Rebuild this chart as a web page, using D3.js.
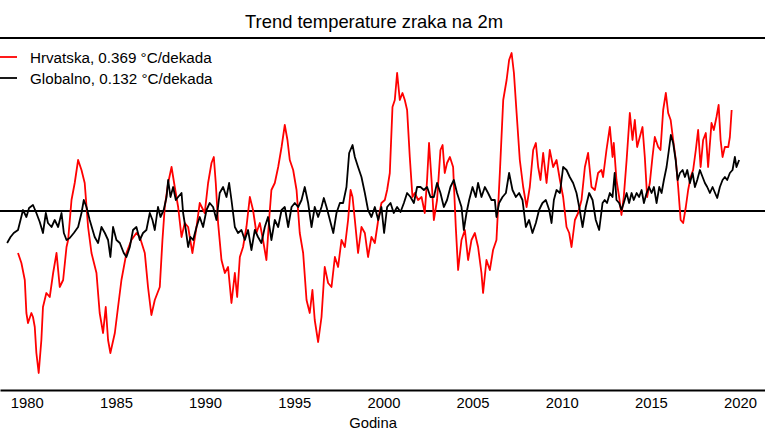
<!DOCTYPE html>
<html>
<head>
<meta charset="utf-8">
<script src="https://cdn.jsdelivr.net/npm/d3@7"></script>
<style>
    body { margin: 0; background: #fff; }
    svg { display: block; font-family: "Liberation Sans", Arial, sans-serif; }
</style>
</head>
<body>
<svg></svg>
<script>
// podaci - anomalije temperature (°C), 12-mjesečni klizni srednjak

const hrYears = [1979.51,1979.70,1979.89,1979.98,1980.07,1980.26,1980.35,1980.45,1980.54,1980.67,1980.82,1980.91,1981.10,1981.29,1981.48,1981.67,1981.85,1982.04,1982.23,1982.32,1982.51,1982.69,1982.88,1983.07,1983.25,1983.44,1983.63,1983.91,1984.09,1984.28,1984.43,1984.56,1984.69,1984.94,1985.12,1985.31,1985.59,1985.87,1986.15,1986.34,1986.62,1986.80,1986.99,1987.18,1987.46,1987.61,1987.74,1987.93,1988.12,1988.30,1988.49,1988.68,1988.86,1989.05,1989.29,1989.52,1989.70,1989.98,1990.17,1990.36,1990.49,1990.60,1990.73,1990.92,1991.11,1991.29,1991.48,1991.67,1991.80,1991.95,1992.13,1992.32,1992.51,1992.69,1992.88,1993.07,1993.25,1993.44,1993.59,1993.72,1993.91,1994.10,1994.29,1994.47,1994.62,1994.75,1994.94,1995.13,1995.31,1995.50,1995.69,1995.87,1996.02,1996.15,1996.34,1996.53,1996.71,1996.90,1997.09,1997.28,1997.46,1997.65,1997.84,1998.02,1998.16,1998.27,1998.40,1998.58,1998.77,1998.96,1999.14,1999.33,1999.52,1999.71,1999.89,2000.08,2000.21,2000.36,2000.51,2000.64,2000.77,2000.92,2001.07,2001.20,2001.33,2001.48,2001.63,2001.76,2001.95,2002.14,2002.32,2002.45,2002.56,2002.70,2002.83,2003.01,2003.20,2003.32,2003.44,2003.57,2003.73,2003.91,2004.06,2004.19,2004.38,2004.57,2004.75,2004.94,2005.13,2005.31,2005.50,2005.59,2005.78,2005.97,2006.15,2006.34,2006.53,2006.72,2006.91,2007.05,2007.19,2007.32,2007.47,2007.65,2007.84,2008.03,2008.21,2008.40,2008.55,2008.68,2008.81,2008.96,2009.15,2009.33,2009.52,2009.71,2009.90,2010.08,2010.27,2010.42,2010.55,2010.74,2010.92,2011.11,2011.30,2011.48,2011.67,2011.86,2012.04,2012.23,2012.32,2012.51,2012.70,2012.85,2012.92,2013.07,2013.22,2013.35,2013.48,2013.64,2013.82,2013.97,2014.10,2014.23,2014.38,2014.53,2014.66,2014.79,2014.94,2015.09,2015.22,2015.41,2015.54,2015.69,2015.84,2015.97,2016.11,2016.25,2016.40,2016.53,2016.67,2016.81,2016.96,2017.09,2017.23,2017.37,2017.52,2017.65,2017.79,2017.93,2018.08,2018.21,2018.40,2018.53,2018.68,2018.80,2018.91,2019.02,2019.15,2019.34,2019.43,2019.53];
const hrValues = [-0.42,-0.52,-0.69,-1.02,-1.12,-1.02,-1.06,-1.16,-1.42,-1.62,-1.29,-0.96,-0.82,-0.86,-0.62,-0.42,-0.76,-0.69,-0.36,-0.29,0.11,0.28,0.51,0.41,0.28,-0.16,-0.42,-0.62,-1.02,-1.22,-0.96,-1.29,-1.42,-1.22,-0.96,-0.69,-0.42,-0.29,-0.22,-0.26,-0.42,-0.76,-1.04,-0.89,-0.76,-0.29,0.04,0.28,0.44,0.24,0.04,-0.26,-0.12,-0.16,-0.42,-0.16,0.08,-0.02,0.28,0.48,0.54,0.28,-0.12,-0.49,-0.62,-0.56,-0.92,-0.62,-0.86,-0.46,-0.36,-0.16,0.14,0.01,-0.22,-0.12,-0.29,-0.49,-0.09,0.21,0.28,0.44,0.64,0.86,0.71,0.51,0.41,0.21,-0.22,-0.42,-0.89,-1.02,-0.79,-1.09,-1.31,-1.06,-0.56,-0.72,-0.76,-0.46,-0.56,-0.29,-0.36,-0.09,0.21,0.14,-0.09,-0.42,-0.16,-0.22,-0.46,-0.26,-0.32,-0.09,0.08,0.11,0.21,0.38,1.04,1.11,1.38,1.11,1.18,1.11,1.01,0.54,0.14,0.18,0.11,0.14,-0.02,0.31,0.68,0.31,-0.09,0.11,0.61,0.66,0.38,0.48,0.54,0.44,-0.16,-0.59,-0.29,-0.19,-0.49,-0.29,-0.22,-0.36,-0.62,-0.82,-0.49,-0.59,-0.39,-0.29,0.38,1.11,1.31,1.51,1.58,1.38,0.98,0.51,0.24,0.04,0.24,0.61,0.68,0.44,0.31,0.58,0.28,0.61,0.44,0.51,0.31,0.14,-0.16,-0.22,-0.36,-0.09,-0.02,0.11,0.44,0.58,0.24,0.21,0.38,0.41,0.34,0.61,0.84,0.54,0.68,0.31,0.14,-0.04,0.14,0.51,0.98,0.71,0.91,0.64,0.74,0.84,0.54,0.14,0.28,0.54,0.74,0.64,0.61,1.01,1.18,0.98,0.91,0.71,0.51,0.24,-0.09,-0.12,0.04,0.21,0.34,0.41,0.61,0.81,0.44,0.71,0.78,0.44,0.88,0.81,0.94,1.06,0.71,0.54,0.64,0.64,0.74,1.01];

const glYears = [1978.90,1979.09,1979.27,1979.51,1979.65,1979.79,1979.98,1980.13,1980.35,1980.54,1980.73,1980.91,1981.07,1981.19,1981.39,1981.57,1981.76,1981.95,1982.08,1982.23,1982.41,1982.64,1982.88,1983.07,1983.20,1983.35,1983.53,1983.81,1984.00,1984.19,1984.38,1984.56,1984.69,1984.84,1985.03,1985.22,1985.44,1985.59,1985.78,1985.96,1986.15,1986.34,1986.52,1986.71,1986.90,1987.05,1987.18,1987.36,1987.50,1987.68,1987.84,1987.93,1988.06,1988.21,1988.36,1988.49,1988.68,1988.77,1988.92,1989.05,1989.18,1989.33,1989.52,1989.70,1989.89,1990.08,1990.26,1990.45,1990.64,1990.82,1991.01,1991.20,1991.35,1991.48,1991.67,1991.85,1992.04,1992.23,1992.41,1992.60,1992.79,1992.97,1993.16,1993.35,1993.53,1993.72,1993.91,1994.10,1994.29,1994.47,1994.66,1994.85,1995.03,1995.22,1995.41,1995.59,1995.78,1995.97,1996.15,1996.34,1996.53,1996.66,1996.81,1997.00,1997.19,1997.37,1997.56,1997.74,1997.93,1998.08,1998.27,1998.40,1998.58,1998.77,1998.96,1999.14,1999.33,1999.52,1999.71,1999.89,2000.04,2000.21,2000.40,2000.58,2000.77,2000.96,2001.15,2001.33,2001.52,2001.71,2001.89,2002.08,2002.27,2002.45,2002.64,2002.83,2003.01,2003.20,2003.39,2003.57,2003.76,2003.95,2004.13,2004.38,2004.51,2004.66,2004.81,2005.00,2005.18,2005.31,2005.50,2005.69,2005.87,2006.06,2006.25,2006.34,2006.49,2006.68,2006.87,2007.05,2007.24,2007.43,2007.61,2007.80,2007.99,2008.17,2008.36,2008.55,2008.73,2008.92,2009.11,2009.30,2009.43,2009.56,2009.71,2009.90,2010.08,2010.27,2010.45,2010.64,2010.83,2010.98,2011.17,2011.35,2011.54,2011.73,2011.91,2012.10,2012.29,2012.41,2012.54,2012.70,2012.85,2012.97,2013.07,2013.22,2013.35,2013.48,2013.64,2013.78,2013.92,2014.04,2014.20,2014.34,2014.48,2014.61,2014.76,2014.90,2015.04,2015.17,2015.32,2015.47,2015.60,2015.73,2015.88,2016.01,2016.12,2016.25,2016.39,2016.50,2016.63,2016.78,2016.91,2017.04,2017.19,2017.34,2017.47,2017.60,2017.75,2017.90,2018.03,2018.16,2018.31,2018.46,2018.60,2018.72,2018.87,2019.02,2019.15,2019.28,2019.43,2019.58,2019.71,2019.80,2019.95];
const glValues = [-0.32,-0.26,-0.22,-0.19,-0.09,0.01,-0.06,0.03,0.06,-0.02,-0.11,-0.22,-0.02,-0.12,-0.16,-0.09,-0.16,-0.02,-0.22,-0.29,-0.27,-0.22,-0.16,-0.02,0.11,0.04,-0.09,-0.26,-0.32,-0.16,-0.22,-0.29,-0.46,-0.16,-0.29,-0.32,-0.42,-0.46,-0.36,-0.19,-0.16,-0.29,-0.22,-0.19,-0.02,-0.09,-0.19,0.04,-0.06,0.01,0.14,0.31,0.14,0.24,0.11,0.14,0.18,-0.02,-0.19,-0.36,-0.26,-0.29,-0.16,-0.06,-0.16,0.01,0.08,0.04,-0.09,0.18,0.24,0.14,0.28,0.11,-0.16,-0.22,-0.19,-0.29,-0.19,-0.39,-0.19,-0.26,-0.32,-0.16,-0.06,-0.29,-0.09,-0.16,0.01,0.04,-0.16,0.04,0.08,0.04,0.11,0.24,0.08,-0.16,0.04,-0.06,0.04,0.13,0.04,-0.09,-0.22,-0.02,0.08,0.08,0.24,0.58,0.66,0.54,0.44,0.34,0.18,0.01,-0.06,0.04,-0.09,0.04,-0.22,0.04,0.08,-0.02,0.04,-0.01,0.08,0.18,0.14,0.08,0.24,0.24,0.21,0.24,0.14,0.14,0.28,0.18,0.04,0.11,0.24,0.31,0.18,0.04,-0.19,-0.02,0.11,0.24,0.14,0.28,0.14,0.24,0.18,0.11,0.11,-0.06,0.08,0.14,0.18,0.38,0.21,0.14,0.18,0.11,-0.16,-0.09,-0.22,-0.12,0.01,0.08,0.11,0.01,-0.12,0.11,0.21,0.18,0.44,0.41,0.34,0.28,0.18,0.04,-0.16,0.04,0.18,0.11,-0.09,-0.19,0.08,0.11,0.08,0.18,0.14,0.38,0.11,0.08,0.01,0.08,0.18,0.08,0.18,0.11,0.18,0.14,0.21,0.08,0.18,0.24,0.18,0.24,0.08,0.24,0.18,0.31,0.44,0.61,0.76,0.68,0.51,0.31,0.38,0.41,0.34,0.41,0.28,0.38,0.24,0.31,0.41,0.34,0.28,0.24,0.18,0.24,0.18,0.13,0.24,0.31,0.34,0.31,0.38,0.41,0.54,0.44,0.51];

const tickYears = [1980, 1985, 1990, 1995, 2000, 2005, 2010, 2015, 2020];

const series = [
    { name: "Hrvatska, 0.369 °C/dekada", color: "#ff0000", years: hrYears, values: hrValues },
    { name: "Globalno, 0.132 °C/dekada", color: "#000000", years: glYears, values: glValues }
];

const width = 765, height = 444;
const svg = d3.select("svg").attr("width", width).attr("height", height);

// skale
const x = d3.scaleLinear().domain([1978.5, 2021.4]).range([0, width]);
const y = d3.scaleLinear().domain([-1.79, 1.73]).range([390, 38]);

// naslov
svg.append("text")
    .attr("x", 374).attr("y", 28)
    .attr("text-anchor", "middle")
    .style("font-size", "18.4px")
    .text("Trend temperature zraka na 2m");

// gornja linija okvira
svg.append("line")
    .attr("x1", 0).attr("x2", width)
    .attr("y1", y(1.73)).attr("y2", y(1.73))
    .style("stroke", "#000").style("stroke-width", 2);

// nulta linija
svg.append("line")
    .attr("x1", 0).attr("x2", width)
    .attr("y1", y(0)).attr("y2", y(0))
    .style("stroke", "#000").style("stroke-width", 2);

// krivulje
const line = d3.line().x(d => x(d[0])).y(d => y(d[1]));
series.forEach(s => {
    svg.append("path")
        .datum(d3.zip(s.years, s.values))
        .attr("d", line)
        .style("fill", "none")
        .style("stroke", s.color)
        .style("stroke-width", 1.8)
        .style("stroke-linejoin", "round");
});

// x os
const axis = svg.append("g")
    .attr("transform", `translate(0, ${y(-1.79)})`)
    .call(d3.axisBottom(x).tickValues(tickYears).tickFormat(d3.format("d")).tickSize(0).tickPadding(7));
axis.select(".domain").style("stroke", "#000").style("stroke-width", 2);
axis.selectAll("text").style("font-size", "14.8px").style("font-family", "Liberation Sans, Arial, sans-serif").style("fill", "#000");

svg.append("text")
    .attr("x", 373).attr("y", 428)
    .attr("text-anchor", "middle")
    .style("font-size", "14.8px")
    .text("Godina");

// legenda
const legend = svg.append("g");
series.forEach((s, i) => {
    const ly = 57 + i * 21;
    legend.append("line")
        .attr("x1", 0).attr("x2", 17)
        .attr("y1", ly).attr("y2", ly)
        .style("stroke", s.color).style("stroke-width", 1.8);
    legend.append("text")
        .attr("x", 30).attr("y", ly + 5.5)
        .style("font-size", "15.2px")
        .text(s.name);
});
</script>
</body>
</html>
